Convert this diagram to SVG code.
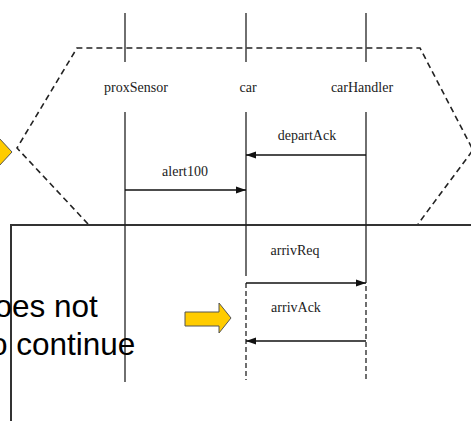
<svg xmlns="http://www.w3.org/2000/svg" width="471" height="421" viewBox="0 0 471 421">
<style>
.ll{stroke:#222;stroke-width:1.3;fill:none}
.lld{stroke:#222;stroke-width:1.3;fill:none;stroke-dasharray:5 3}
.hex{stroke:#222;stroke-width:1.6;fill:none;stroke-dasharray:6 4}
.msg{stroke:#111;stroke-width:1.4;fill:none}
.lab{font-family:"Liberation Serif",serif;font-size:14px;fill:#222;text-anchor:middle}
.big{font-family:"Liberation Sans",Arial,sans-serif;font-size:31.5px;fill:#000}
.yel{fill:#FFCC00;stroke:#555;stroke-width:1}
.frame{stroke:#333;stroke-width:2;fill:none}
</style>
<defs>
<marker id="ah" markerWidth="11" markerHeight="8" refX="10" refY="4" orient="auto" markerUnits="userSpaceOnUse">
<path d="M0,0.5 L10,4 L0,7.5 Z" fill="#111"/>
</marker>
</defs>
<rect width="471" height="421" fill="#fff"/>
<g id="frame">
<polyline class="hex" points="88,224 17,148 77,48 420,48 473,150 418,224"/>
<polyline class="frame" points="11,421 11,225 471,225"/>
</g>
<g id="proxSensor">
<line class="ll" x1="125" y1="13" x2="125" y2="62"/>
<text class="lab" x="136" y="92">proxSensor</text>
<line class="ll" x1="125" y1="112" x2="125" y2="382"/>
</g>
<g id="car">
<line class="ll" x1="246" y1="13" x2="246" y2="62"/>
<text class="lab" x="248" y="92">car</text>
<line class="ll" x1="246" y1="112" x2="246" y2="276"/>
<line class="lld" x1="246" y1="283" x2="246" y2="380"/>
</g>
<g id="carHandler">
<line class="ll" x1="366" y1="13" x2="366" y2="62"/>
<text class="lab" x="362" y="92">carHandler</text>
<line class="ll" x1="366" y1="112" x2="366" y2="283"/>
<line class="lld" x1="366" y1="286" x2="366" y2="380"/>
</g>
<g id="connectors">
<line class="msg" x1="366" y1="155" x2="246" y2="155" marker-end="url(#ah)"/>
<line class="msg" x1="125" y1="190" x2="246" y2="190" marker-end="url(#ah)"/>
<line class="msg" x1="246" y1="283" x2="366" y2="283" marker-end="url(#ah)"/>
<line class="msg" x1="366" y1="341" x2="246" y2="341" marker-end="url(#ah)"/>
</g>
<g id="labels">
<text class="lab" x="307" y="140">departAck</text>
<text class="lab" x="185" y="176">alert100</text>
<text class="lab" x="295" y="255">arrivReq</text>
<text class="lab" x="296" y="312">arrivAck</text>
</g>
<g id="note">
<text class="big" x="-5.5" y="317">oes not</text>
<text class="big" x="-10" y="355">o continue</text>
</g>
<g id="arrow-left">
<polygon class="yel" points="-20,144 -1,144 -1,138 12,152 -1,166 -1,160 -20,160"/>
</g>
<g id="arrow-mid">
<polygon class="yel" points="185,312 219,312 219,303 231,318 219,333 219,326 185,326"/>
</g>
</svg>
